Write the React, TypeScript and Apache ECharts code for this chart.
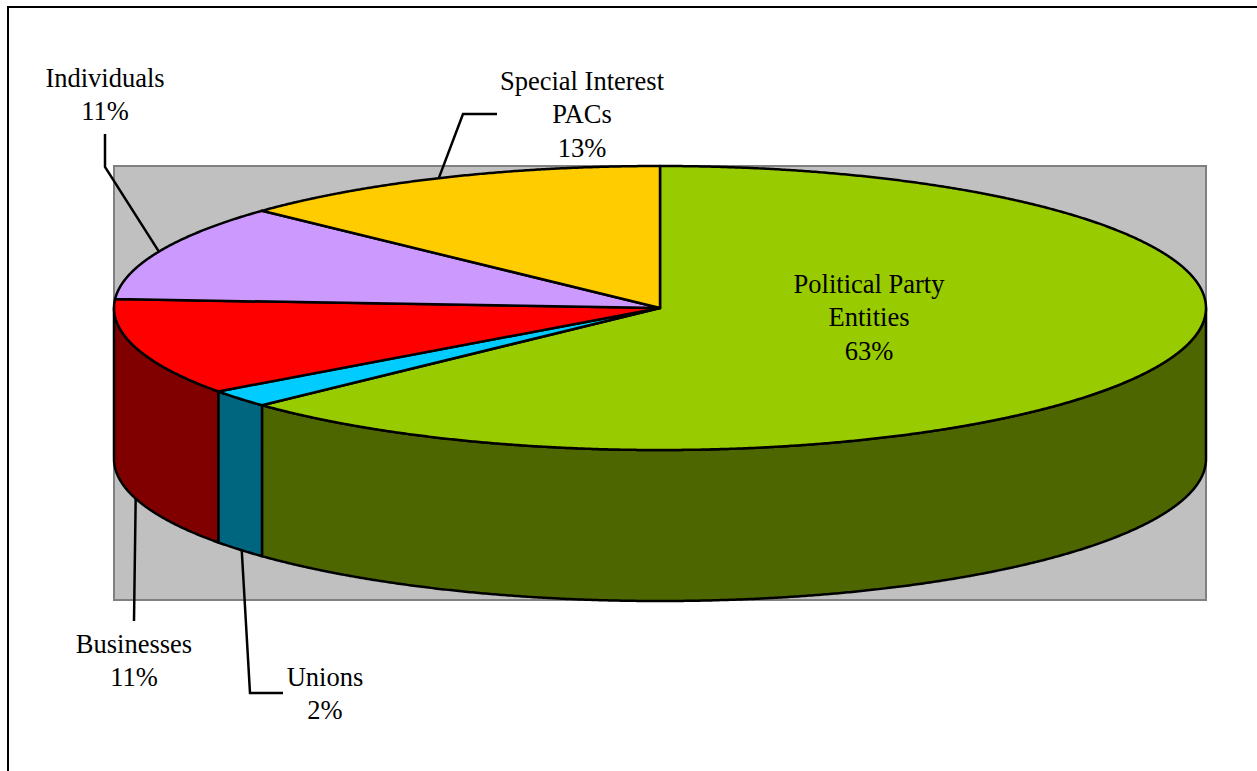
import React, { useEffect, useRef } from "react";
import * as echarts from "echarts";

// Funding sources, clockwise from twelve o'clock.
const categories = [
  "Political Party\nEntities",
  "Unions",
  "Businesses",
  "Individuals",
  "Special Interest\nPACs",
];
const shares = [63, 2, 11, 11, 13];
const topColors = ["#99CC00", "#00CCFF", "#FF0000", "#CC99FF", "#FFCC00"];
const wallColors = ["#4D6600", "#006680", "#800000", "#806699", "#806600"];

// Disc geometry: centre of the top face, radii and extrusion depth.
const CX = 660;
const CY = 308;
const RX = 546;
const RY = 142;
const DEPTH = 151;
const OUTLINE = 2.5;

// Label centres (first line) and the fixed part of each leader line.
const labelAnchors: [number, number][] = [
  [869, 284],
  [325, 677],
  [134, 644],
  [105, 78],
  [582, 81],
];
const leaderBends: ([number, number][] | null)[] = [
  null,
  [[283, 693], [250, 693]],
  [[134, 621]],
  [[105, 134], [105, 167]],
  [[497, 114], [463, 114]],
];
// Small angular nudge of each leader's end along the rim, in degrees.
const leaderNudges = [0, -0.4, 0, 0, -0.5];

const total = shares.reduce((a, b) => a + b, 0);
const startAngles: number[] = [];
shares.reduce((sum, v, i) => {
  startAngles[i] = (sum / total) * 360;
  return sum + v;
}, 0);

const rimPoint = (deg: number, drop = 0): [number, number] => {
  const a = (deg * Math.PI) / 180;
  return [CX + RX * Math.sin(a), CY - RY * Math.cos(a) + drop];
};

const arcPoints = (from: number, to: number, drop = 0) => {
  const pts: [number, number][] = [];
  const steps = Math.max(2, Math.ceil((to - from) * 4));
  for (let i = 0; i <= steps; i++) pts.push(rimPoint(from + ((to - from) * i) / steps, drop));
  return pts;
};

const sliceRange = (i: number, value: number): [number, number] => {
  const from = startAngles[i];
  return [from, from + (value / total) * 360];
};

// Only the part of a slice between 90 and 270 degrees shows its outer wall.
const renderWall = (params: any, api: any) => {
  const i = params.dataIndex;
  const [a, b] = sliceRange(i, api.value(0));
  const from = Math.max(a, 90);
  const to = Math.min(b, 270);
  if (to <= from) return { type: "group", children: [] };
  return {
    type: "polygon",
    shape: { points: [...arcPoints(from, to), ...arcPoints(from, to, DEPTH).reverse()] },
    style: { fill: wallColors[i], stroke: "#000", lineWidth: OUTLINE, lineJoin: "round" },
  };
};

const renderTop = (params: any, api: any) => {
  const i = params.dataIndex;
  const [a, b] = sliceRange(i, api.value(0));
  return {
    type: "polygon",
    shape: { points: [[CX, CY], ...arcPoints(a, b)] },
    style: { fill: topColors[i], stroke: "#000", lineWidth: OUTLINE, lineJoin: "round" },
  };
};

// Leader lines meet the rim at the middle of the slice; slices on the front
// half connect to the bottom edge of the wall.
const renderLabel = (params: any, api: any) => {
  const i = params.dataIndex;
  const value = api.value(0);
  const [a, b] = sliceRange(i, value);
  const mid = (a + b) / 2;
  const drop = mid > 90 && mid < 270 ? DEPTH : 0;
  const children: any[] = [];
  const bends = leaderBends[i];
  if (bends) {
    children.push({
      type: "polyline",
      shape: { points: [...bends, rimPoint(mid + leaderNudges[i], drop)] },
      style: { fill: "none", stroke: "#000", lineWidth: OUTLINE },
    });
  }
  children.push({
    type: "text",
    x: labelAnchors[i][0],
    y: labelAnchors[i][1] - 16.7,
    style: {
      text: `${categories[i]}\n${value}%`,
      font: "26.5px 'Liberation Serif'",
      fill: "#000",
      align: "center",
      verticalAlign: "top",
      lineHeight: 33.4,
    },
  });
  return { type: "group", children };
};

const seriesData = shares.map((v, i) => ({ name: categories[i], value: [v] }));

export default function App() {
  const ref = useRef<HTMLDivElement>(null);
  useEffect(() => {
    const chart = echarts.init(ref.current!, undefined, { renderer: "svg" });
    chart.setOption({
      animation: false,
      backgroundColor: "#fff",
      graphic: {
        elements: [
          {
            type: "rect",
            z: -2,
            shape: { x: 8, y: 7, width: 1400, height: 900 },
            style: { fill: "#fff", stroke: "#000", lineWidth: 2 },
          },
          {
            type: "rect",
            z: -1,
            shape: { x: 114, y: 166, width: 1092, height: 434 },
            style: { fill: "#C0C0C0", stroke: "#808080", lineWidth: 2 },
          },
        ],
      },
      series: [
        { type: "custom", coordinateSystem: "none", z: 2, renderItem: renderWall, data: seriesData, clip: false },
        { type: "custom", coordinateSystem: "none", z: 3, renderItem: renderTop, data: seriesData, clip: false },
        { type: "custom", coordinateSystem: "none", z: 4, renderItem: renderLabel, data: seriesData, clip: false },
      ],
    });
    return () => chart.dispose();
  }, []);
  return <div ref={ref} style={{ position: "absolute", left: 0, top: 0, width: 1257, height: 771 }} />;
}
